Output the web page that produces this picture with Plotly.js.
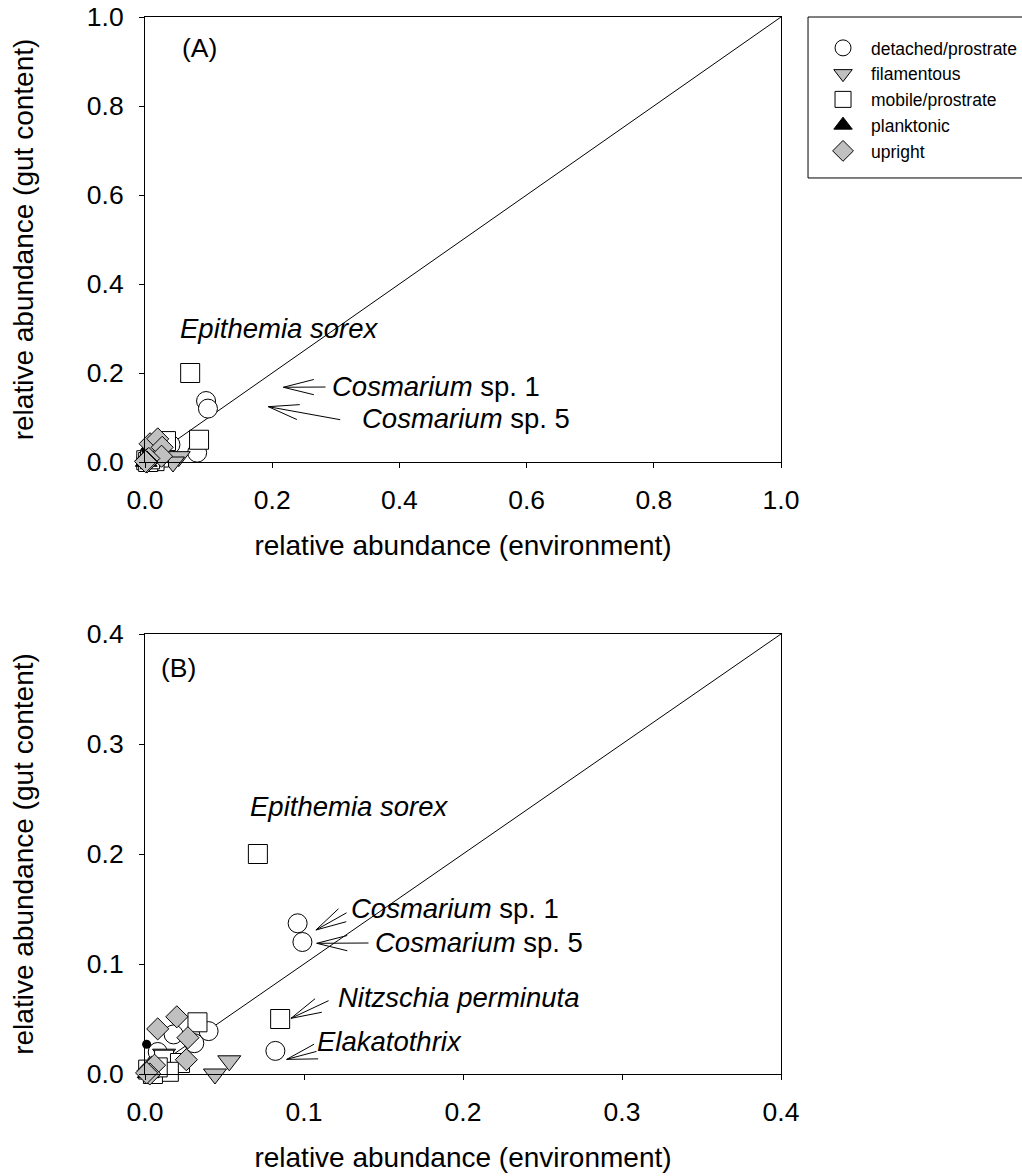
<!DOCTYPE html>
<html>
<head>
<meta charset="utf-8">
<script src="https://cdn.plot.ly/plotly-3.0.1.min.js"></script>
<style>html,body{margin:0;padding:0;background:#fff;}</style>
</head>
<body>
<div id="chart" style="width:1022px;height:1176px;"></div>
<script>
// Relative abundance of algal taxa in gut contents vs. in the environment,
// grouped by growth form. Panel A shows the full 0-1 range, panel B the 0-0.4 range.

// detached/prostrate
const detachedX = [0.096, 0.099, 0.082, 0.040, 0.031, 0.008, 0.003, 0.010, 0.018];
const detachedY = [0.137, 0.120, 0.021, 0.039, 0.028, 0.020, 0.002, 0.005, 0.036];
// filamentous
const filamentX = [0.053, 0.044, 0.012, 0.010, 0.005];
const filamentY = [0.012, 0.000, 0.018, 0.002, 0.000];
// mobile/prostrate
const mobileX = [0.071, 0.085, 0.033, 0.012, 0.022, 0.015, 0.002, 0.005, 0.008];
const mobileY = [0.200, 0.050, 0.047, 0.013, 0.010, 0.002, 0.004, 0.000, 0.006];
// planktonic
const planktonX = [0.002];
const planktonY = [0.001];
// upright
const uprightX = [0.008, 0.020, 0.027, 0.026, 0.002, 0.004, 0.006, 0.003, 0.001];
const uprightY = [0.041, 0.052, 0.033, 0.013, 0.003, 0.006, 0.008, 0.000, 0.001];
// small unlabelled point
const dotX = [0.001];
const dotY = [0.027];

// 1:1 reference lines
const diagA = [0, 1];
const diagB = [0, 0.4];

// axis ticks
const ticksA = [0, 0.2, 0.4, 0.6, 0.8, 1.0];
const ticksB = [0, 0.1, 0.2, 0.3, 0.4];

// species labels, panel A
const labelsAText = ['<i>Epithemia sorex</i>', '<i>Cosmarium</i> sp. 1', '<i>Cosmarium</i> sp. 5'];
const labelsAX = [0.0519, 0.2909, 0.3381];
const labelsAY = [0.3011, 0.1700, 0.0982];
const arrowsATipX = [0.2175, 0.1939];
const arrowsATipY = [0.1679, 0.1243];
const arrowsATailX = [0.2862, 0.3093];
const arrowsATailY = [0.1685, 0.0944];

// species labels, panel B
const labelsBText = ['<i>Epithemia sorex</i>', '<i>Cosmarium</i> sp. 1', '<i>Cosmarium</i> sp. 5',
                     '<i>Nitzschia perminuta</i>', '<i>Elakatothrix</i>'];
const labelsBX = [0.0648, 0.1283, 0.1434, 0.1201, 0.1069];
const labelsBY = [0.2436, 0.1509, 0.1191, 0.0700, 0.0291];
const arrowsBTipX = [0.1075, 0.1080, 0.0918, 0.0891];
const arrowsBTipY = [0.1309, 0.1188, 0.0506, 0.0133];
const arrowsBTailX = [0.1277, 0.1415, 0.1164, 0.1088];
const arrowsBTailY = [0.1473, 0.1191, 0.0673, 0.0209];

const FONT = 'Liberation Sans, Arial, sans-serif';
const GREY = '#c0c0c0';
const W = 1022, H = 1176;
const M = {l: 145, r: 241, t: 17, b: 102, autoexpand: false};
const domA = [0.5790, 1];
const domB = [0, 0.41627];
const rangeA = [0, 1];
const rangeB = [0, 0.4];

const outline = {color: '#000', width: 1};
const groups = [
  {name: 'detached/prostrate', x: detachedX, y: detachedY, symbol: 'circle', color: '#fff', size: 19},
  {name: 'filamentous', x: filamentX, y: filamentY, symbol: 'triangle-down', color: GREY, size: 20},
  {name: 'mobile/prostrate', x: mobileX, y: mobileY, symbol: 'square', color: '#fff', size: 19},
  {name: 'planktonic', x: planktonX, y: planktonY, symbol: 'triangle-up', color: '#000', size: 19},
  {name: 'upright', x: uprightX, y: uprightY, symbol: 'diamond', color: GREY, size: 17}
];

const traces = [];
function addPanel(xa, ya, diag, legend) {
  traces.push({x: diag, y: diag, xaxis: xa, yaxis: ya, mode: 'lines',
               line: {color: '#000', width: 1}, showlegend: false, hoverinfo: 'skip'});
  groups.forEach(g => {
    if (g.name === 'upright') {
      traces.push({x: dotX, y: dotY, xaxis: xa, yaxis: ya, mode: 'markers', showlegend: false,
                   cliponaxis: false, marker: {symbol: 'circle', size: 9, color: '#000'}});
    }
    traces.push({x: g.x, y: g.y, xaxis: xa, yaxis: ya, mode: 'markers', name: g.name,
                 showlegend: legend, cliponaxis: false,
                 marker: {symbol: g.symbol, size: g.size, color: g.color, line: outline}});
  });
}
addPanel('x', 'y', diagA, true);
addPanel('x2', 'y2', diagB, false);

function axis(range, ticks, domain, anchor, titleText, isY) {
  return {
    range: range, domain: domain, anchor: anchor,
    tickmode: 'array', tickvals: ticks, ticktext: ticks.map(v => v.toFixed(1)),
    ticks: 'outside', ticklen: 5, tickwidth: 1, tickcolor: '#000',
    showline: true, linecolor: '#000', linewidth: 1, mirror: true,
    showgrid: false, zeroline: false, fixedrange: true, automargin: false,
    tickfont: {family: FONT, size: 26.5, color: '#000'},
    ticklabelstandoff: isY ? 10 : 9,
    title: {text: titleText, font: {family: FONT, size: 28, color: '#000'}, standoff: isY ? 45 : 21}
  };
}

const plotW = W - M.l - M.r, plotH = H - M.t - M.b;
const scaleA = {sx: plotW / (rangeA[1] - rangeA[0]),
                sy: plotH * (domA[1] - domA[0]) / (rangeA[1] - rangeA[0])};
const scaleB = {sx: plotW / (rangeB[1] - rangeB[0]),
                sy: plotH * (domB[1] - domB[0]) / (rangeB[1] - rangeB[0])};

const annotations = [];
function addLabels(xr, yr, text, xs, ys) {
  text.forEach((t, i) => annotations.push({
    xref: xr, yref: yr, x: xs[i], y: ys[i], text: t, showarrow: false,
    xanchor: 'left', yanchor: 'middle', font: {family: FONT, size: 27.5, color: '#000'}
  }));
}
// open arrowheads: a shaft plus two barbs fanning from the tip
function addArrows(xr, yr, sc, tx, ty, ex, ey) {
  const barbLen = 33, barbAng = 14 * Math.PI / 180;
  tx.forEach((_, i) => {
    const dx = (ex[i] - tx[i]) * sc.sx;
    const dy = -(ey[i] - ty[i]) * sc.sy;
    const ang = Math.atan2(dy, dx);
    const vecs = [[dx, dy],
                  [barbLen * Math.cos(ang - barbAng), barbLen * Math.sin(ang - barbAng)],
                  [barbLen * Math.cos(ang + barbAng), barbLen * Math.sin(ang + barbAng)]];
    vecs.forEach(v => annotations.push({
      xref: xr, yref: yr, x: tx[i], y: ty[i], text: '', showarrow: true,
      arrowhead: 0, arrowwidth: 1, arrowcolor: '#000', ax: v[0], ay: v[1],
      standoff: 0, startstandoff: 0
    }));
  });
}
addLabels('x', 'y', labelsAText, labelsAX, labelsAY);
addArrows('x', 'y', scaleA, arrowsATipX, arrowsATipY, arrowsATailX, arrowsATailY);
addLabels('x2', 'y2', labelsBText, labelsBX, labelsBY);
addArrows('x2', 'y2', scaleB, arrowsBTipX, arrowsBTipY, arrowsBTailX, arrowsBTailY);

// panel tags
annotations.push({xref: 'x', yref: 'y', x: 0.055, y: 0.930, text: '(A)', showarrow: false,
                  xanchor: 'left', yanchor: 'middle', font: {family: FONT, size: 26.5, color: '#000'}});
annotations.push({xref: 'x2', yref: 'y2', x: 0.009, y: 0.369, text: '(B)', showarrow: false,
                  xanchor: 'left', yanchor: 'middle', font: {family: FONT, size: 26.5, color: '#000'}});

const layout = {
  width: W, height: H,
  margin: M,
  paper_bgcolor: '#fff', plot_bgcolor: '#fff',
  font: {family: FONT, color: '#000'},
  xaxis: axis(rangeA, ticksA, [0, 1], 'y', 'relative abundance (environment)', false),
  yaxis: axis(rangeA, ticksA, domA, 'x', 'relative abundance (gut content)', true),
  xaxis2: axis(rangeB, ticksB, [0, 1], 'y2', 'relative abundance (environment)', false),
  yaxis2: axis(rangeB, ticksB, domB, 'x2', 'relative abundance (gut content)', true),
  showlegend: true,
  legend: {
    x: 1.0535, xanchor: 'left', y: 0.9877, yanchor: 'top',
    bgcolor: 'rgba(0,0,0,0)', borderwidth: 0, itemwidth: 46,
    font: {family: FONT, size: 17.5, color: '#000'}, traceorder: 'normal'
  },
  shapes: [{type: 'rect', xref: 'paper', yref: 'paper',
            x0: 1.0425, x1: 1.40, y0: 0.8477, y1: 1.0,
            line: {color: '#000', width: 1}, fillcolor: 'rgba(0,0,0,0)'}],
  annotations: annotations
};

Plotly.newPlot('chart', traces, layout, {staticPlot: true, displayModeBar: false});
</script>
</body>
</html>
